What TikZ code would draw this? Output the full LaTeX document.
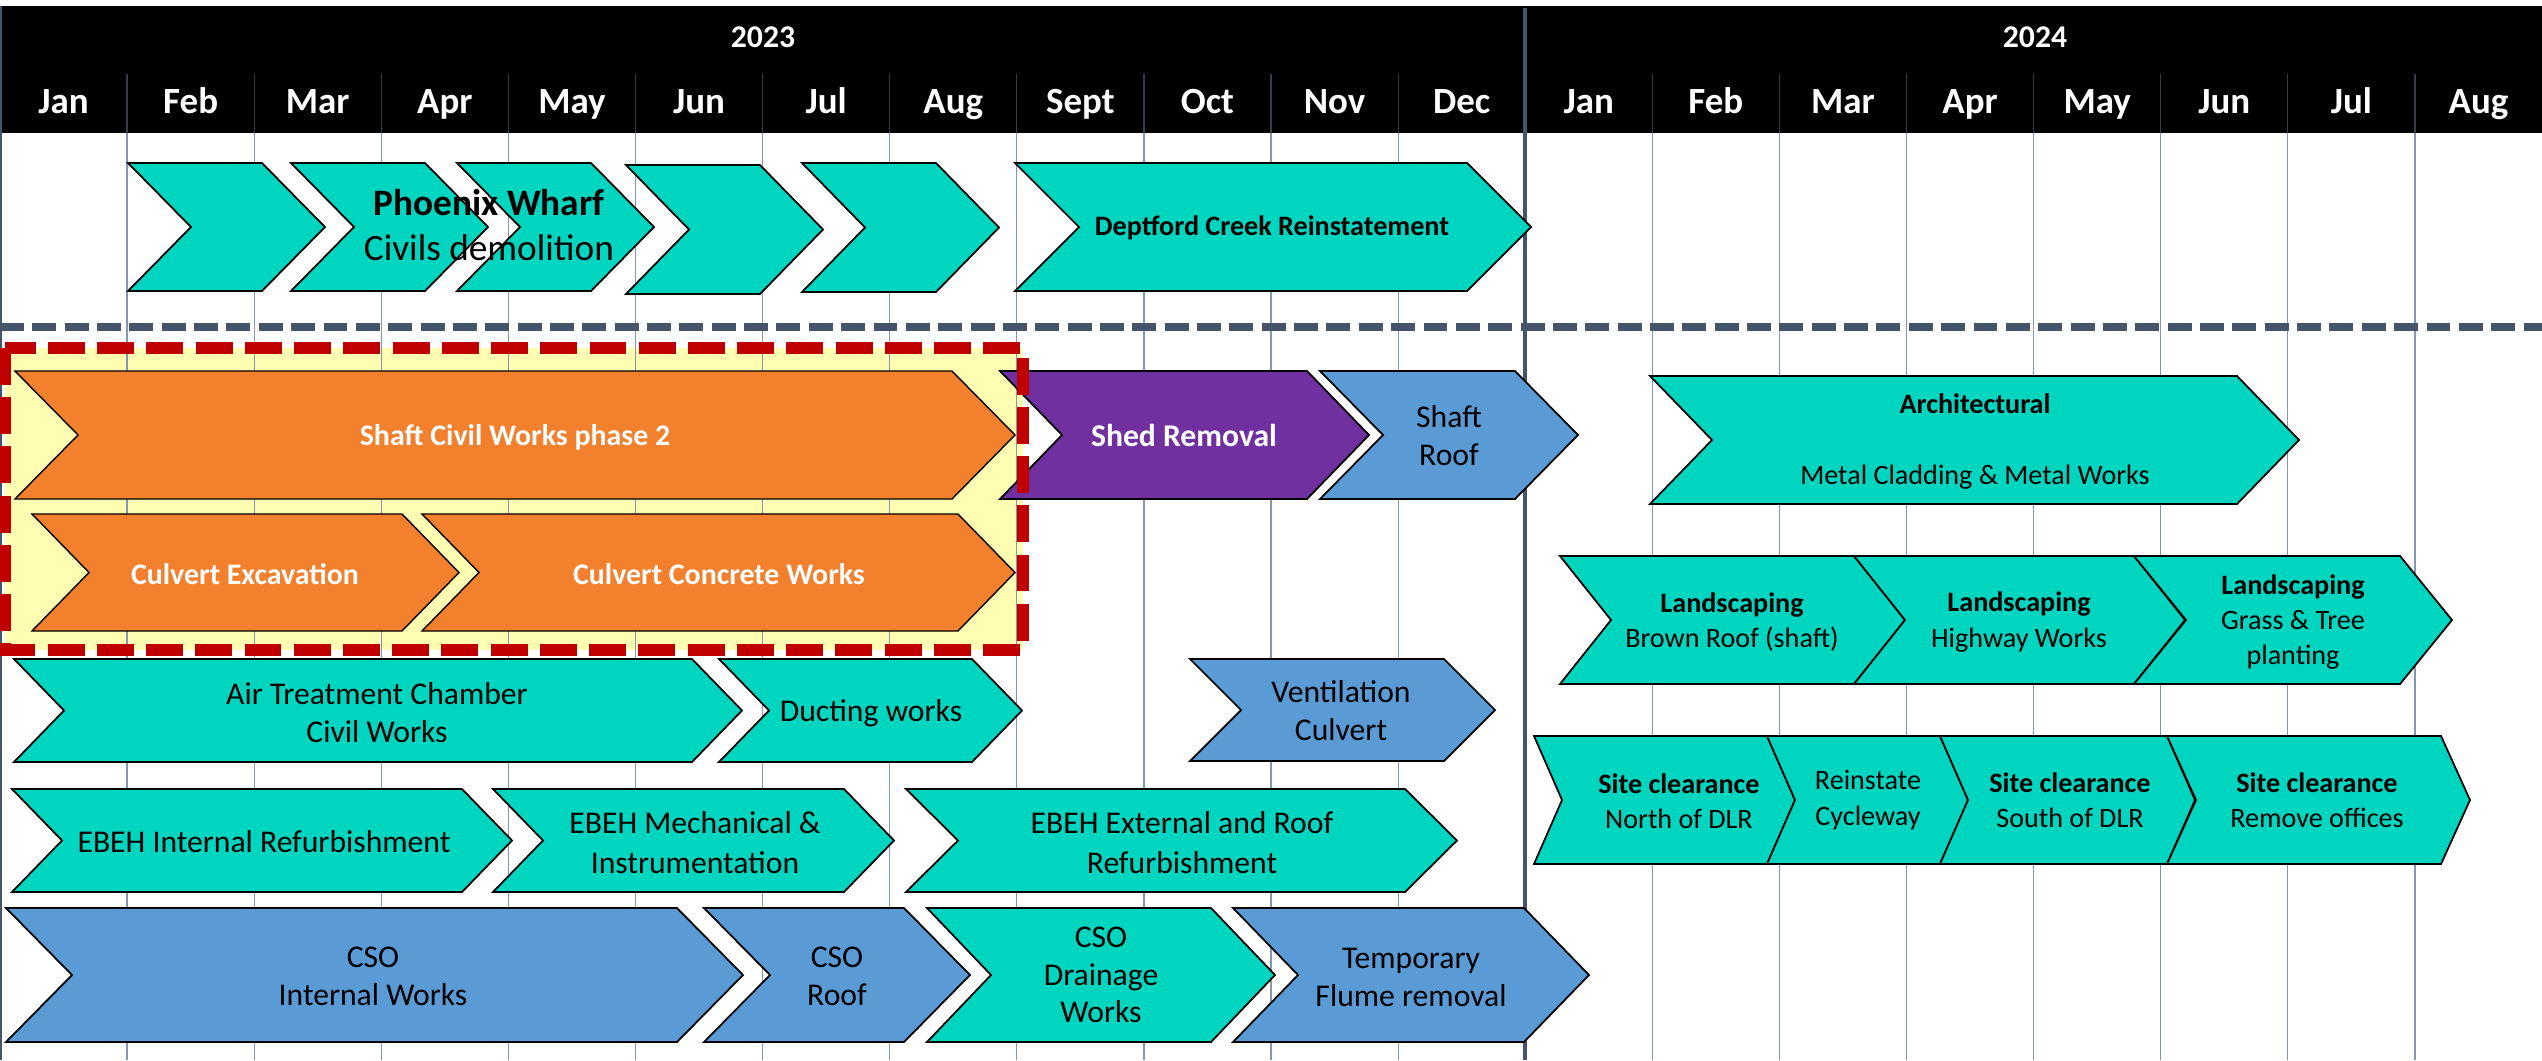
\documentclass[tikz,border=0pt]{standalone}
\usepackage{fontspec}
\setmainfont{Carlito}
\usepackage{tikz}

\definecolor{taskteal}{HTML}{00D5BF}
\definecolor{taskblue}{HTML}{5B9BD5}
\definecolor{taskorange}{HTML}{F2802D}
\definecolor{taskpurple}{HTML}{7030A0}
\definecolor{hiyellow}{HTML}{FFFDB2}
\definecolor{hired}{HTML}{C00000}
\definecolor{slate}{HTML}{44546A}
\definecolor{gridgray}{HTML}{8496B0}

% chevron: style, left x, right x, top y, bottom y, point depth
\newcommand{\taskchev}[6]{\draw[#1] (#2,#4) -- (#3,#4) -- ({#3+#6},{(#4+#5)/2}) -- (#3,#5) -- (#2,#5) -- ({#2+#6},{(#4+#5)/2}) -- cycle;}

\begin{document}
\begin{tikzpicture}[
    x=0.01cm, y=-0.01cm,
    month/.style={text=white, anchor=base, font=\bfseries\fontsize{10.5}{12}\selectfont},
    yearlbl/.style={text=white, anchor=base, font=\bfseries\fontsize{9}{11}\selectfont},
    gridline/.style={draw=gridgray, line width=0.35pt},
    sepline/.style={draw=slate, line width=2.3pt, dash pattern=on 6.8pt off 2.4pt},
    tealtask/.style={fill=taskteal, draw=black, line width=0.5pt},
    bluetask/.style={fill=taskblue, draw=black, line width=0.5pt},
    purpletask/.style={fill=taskpurple, draw=black, line width=0.5pt},
    orangetask/.style={fill=taskorange},
    tasklbl/.style={align=center, inner sep=0pt, font=\fontsize{9}{10.8}\selectfont},
    smalllbl/.style={align=center, inner sep=0pt, font=\fontsize{8}{10}\selectfont},
    whitelbl/.style={align=center, inner sep=0pt, text=white, font=\bfseries\fontsize{8.5}{10}\selectfont}
]
\useasboundingbox (0,0) rectangle (2542,1060);
\fill[white] (0,0) rectangle (2542,1060);

% Header
\fill[black] (0,6) rectangle (2542,133);
\foreach \m in {1,...,19}
  \draw[draw=gridgray!40!black, line width=0.35pt] (\m*127.1,74) -- (\m*127.1,133);
\node[yearlbl] (y2023) at (763,47) {2023};
\node[yearlbl] (y2024) at (2035,47) {2024};
\foreach \name [count=\i] in {Jan,Feb,Mar,Apr,May,Jun,Jul,Aug,Sept,Oct,Nov,Dec,Jan,Feb,Mar,Apr,May,Jun,Jul,Aug}
  \node[month] (m\i) at ({(\i-0.5)*127.1},113) {\name};

% Highlight box
\fill[hiyellow] (5,348) rectangle (1023,650);

% Month grid
\foreach \m in {1,...,11,13,14,...,19}
  \draw[gridline] (\m*127.1,133) -- (\m*127.1,1060);
\draw[draw=slate, line width=1.1pt] (1525,8) -- (1525,1060);
\draw[draw=slate, line width=0.6pt] (1,6) -- (1,1060);
\draw[sepline] (0,327) -- (2542,327);

% Phoenix Wharf
\taskchev{tealtask}{128}{262}{163}{291}{63}
\taskchev{tealtask}{291}{425}{163}{291}{63}
\taskchev{tealtask}{457}{591}{163}{291}{63}
\taskchev{tealtask}{626}{760}{165}{294}{63}
\taskchev{tealtask}{802}{936}{163}{292}{63}
\taskchev{tealtask}{1015}{1467}{163}{291}{64}
\node[tasklbl, font=\fontsize{10.6}{12.8}\selectfont] (phoenix) at (489,225) {\textbf{Phoenix Wharf}\\Civils demolition};
\node[smalllbl, font=\bfseries\fontsize{8}{10}\selectfont] (deptford) at (1272,228) {Deptford Creek Reinstatement};

% Shaft works
\taskchev{orangetask}{15}{952}{371}{499}{63}
\taskchev{orangetask}{32}{402}{514}{631}{57}
\taskchev{orangetask}{422}{958}{514}{631}{57}
\taskchev{purpletask}{1000}{1307}{371}{499}{62}
\taskchev{bluetask}{1320}{1515}{371}{499}{63}
\node[whitelbl] (shaftcivil) at (515,437) {Shaft Civil Works phase 2};
\node[whitelbl] (culvertexc) at (245,574) {Culvert Excavation};
\node[whitelbl] (culvertconc) at (719,574) {Culvert Concrete Works};
\node[whitelbl, font=\bfseries\fontsize{9}{11}\selectfont] (shed) at (1184,436) {Shed Removal};
\node[tasklbl] (shaftroof) at (1449,436) {Shaft\\Roof};

% Architectural and landscaping
\taskchev{tealtask}{1650}{2237}{376}{504}{62}
\node[smalllbl, font=\fontsize{8}{20.2}\selectfont] (arch) at (1975,442) {\textbf{Architectural}\\Metal Cladding \& Metal Works};
\taskchev{tealtask}{1560}{1854}{556}{684}{51}
\taskchev{tealtask}{1854}{2134}{556}{684}{51}
\taskchev{tealtask}{2134}{2400}{556}{684}{52}
\node[smalllbl] (land1) at (1732,622) {\textbf{Landscaping}\\Brown Roof (shaft)};
\node[smalllbl] (land2) at (2019,622) {\textbf{Landscaping}\\Highway Works};
\node[smalllbl] (land3) at (2293,622) {\textbf{Landscaping}\\Grass \& Tree\\planting};

% Air treatment
\taskchev{tealtask}{14}{692}{659}{762}{50}
\taskchev{tealtask}{719}{972}{659}{762}{50}
\taskchev{bluetask}{1190}{1444}{659}{761}{51}
\node[tasklbl] (airtreat) at (377,713) {Air Treatment Chamber\\Civil Works};
\node[tasklbl] (ducting) at (871,713) {Ducting works};
\node[tasklbl] (vent) at (1341,711) {Ventilation\\Culvert};

% EBEH
\taskchev{tealtask}{12}{462}{789}{892}{50}
\taskchev{tealtask}{493}{844}{789}{892}{50}
\taskchev{tealtask}{906}{1405}{789}{892}{52}
\node[tasklbl] (ebehint) at (264,842) {EBEH Internal Refurbishment};
\node[tasklbl, font=\fontsize{9}{11.4}\selectfont] (ebehmech) at (695,843) {EBEH Mechanical \&\\Instrumentation};
\node[tasklbl, font=\fontsize{9}{11.4}\selectfont] (ebehext) at (1182,843) {EBEH External and Roof\\Refurbishment};

% Site clearance
\taskchev{tealtask}{1534}{1767}{736}{864}{28}
\taskchev{tealtask}{1767}{1940}{736}{864}{28}
\taskchev{tealtask}{1940}{2167}{736}{864}{28}
\taskchev{tealtask}{2167}{2441}{736}{864}{29}
\node[smalllbl] (sc1) at (1679,801) {\textbf{Site clearance}\\North of DLR};
\node[smalllbl] (sc2) at (1868,800) {Reinstate\\Cycleway};
\node[smalllbl] (sc3) at (2070,800) {\textbf{Site clearance}\\South of DLR};
\node[smalllbl] (sc4) at (2317,800) {\textbf{Site clearance}\\Remove offices};

% CSO
\taskchev{bluetask}{6}{677}{908}{1042}{66}
\taskchev{bluetask}{704}{904}{908}{1042}{66}
\taskchev{tealtask}{927}{1211}{908}{1042}{64}
\taskchev{bluetask}{1233}{1524}{908}{1042}{65}
\node[tasklbl] (csoint) at (373,976) {CSO\\Internal Works};
\node[tasklbl] (csoroof) at (837,976) {CSO\\Roof};
\node[tasklbl, font=\fontsize{9}{10.7}\selectfont] (csodrain) at (1101,975) {CSO\\Drainage\\Works};
\node[tasklbl] (tempflume) at (1411,977) {Temporary\\Flume removal};

% Highlight border
\draw[draw=hired, line width=3.4pt, dash pattern=on 10.5pt off 3.5pt] (5,348) rectangle (1023,650);

\end{tikzpicture}
\end{document}
